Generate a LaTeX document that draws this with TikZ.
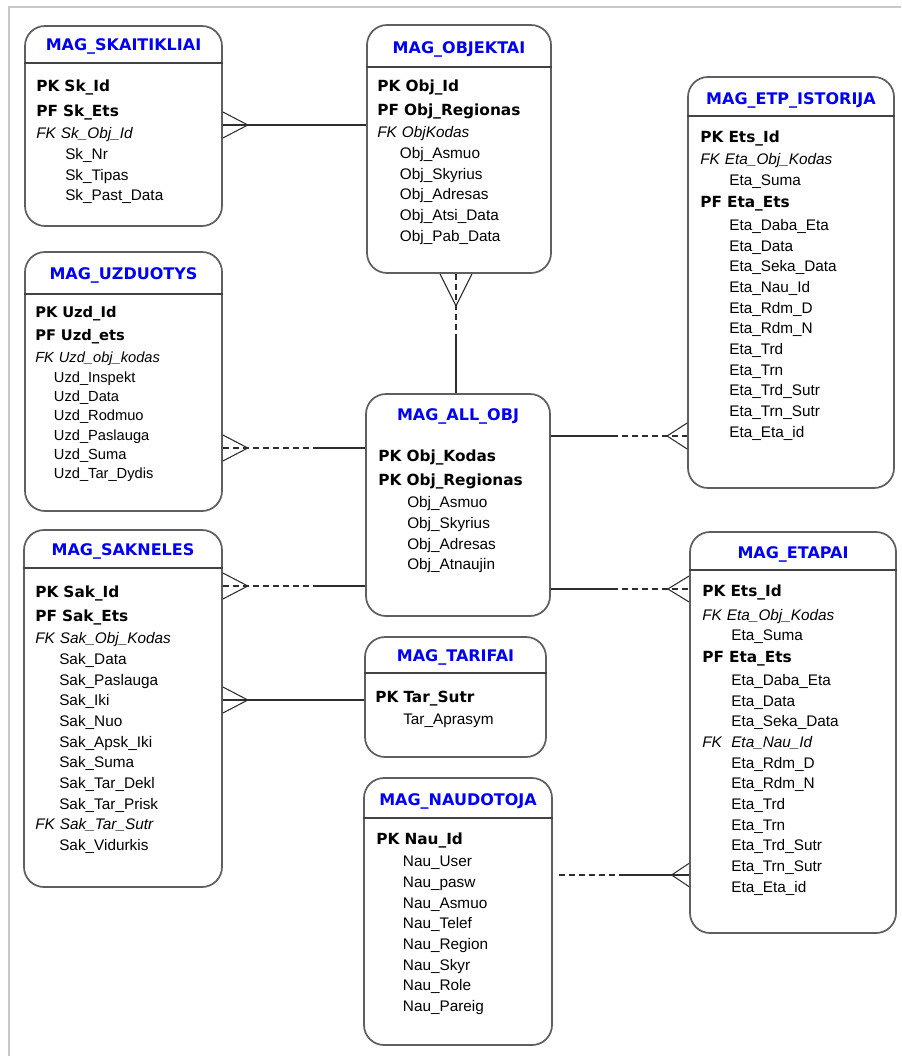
\documentclass[tikz,border=0pt]{standalone}
\usepackage{fontspec}
\setmainfont{Liberation Sans}
\newfontfamily\heavyfont{DejaVu Sans}
\usetikzlibrary{fit}

\definecolor{titleblue}{RGB}{0,0,245}
\definecolor{boxgray}{RGB}{95,95,95}
\definecolor{linkgray}{RGB}{45,45,45}
\definecolor{framegray}{RGB}{200,200,200}

\newlength\fieldindent
\newcommand{\keyfield}[1]{{\heavyfont\bfseries #1}}
\newcommand{\attr}[1]{\hspace*{\fieldindent}#1}

\tikzset{
  entbox/.style={draw=boxgray, line width=1.3pt, rounded corners=15pt, inner sep=0pt},
  enttitle/.style={anchor=base, inner sep=0.75pt, text=titleblue, font=\heavyfont\bfseries\fontsize{12}{14}\selectfont},
  entfields/.style={anchor=base west, inner sep=0pt, align=left, text width=160pt, font=\fontsize{11.5}{15.5}\selectfont},
  fieldindent/.code={\setlength\fieldindent{#1}},
  headrule/.style={draw=boxgray!70!black, line width=1pt},
  relline/.style={draw=linkgray, line width=0.8pt},
  relopt/.style={relline, dash pattern=on 4.5pt off 3pt},
  crow/.pic={\draw [relline] (0,-13) -- (25,0) -- (0,13);},
}

\begin{document}
\begin{tikzpicture}[x=0.75pt,y=0.75pt,yscale=-1,xscale=1]
\useasboundingbox (0,0) rectangle (901,1056);
%Frame
\draw [framegray, line width=1.2pt] (9,1056) -- (9,7) -- (901,7);

%Shape: MAG_SKAITIKLIAI
\node [entbox, fit={(25,26) (222,226)}] (skait) {};
\draw [headrule] (skait.west |- 0,63) -- (skait.east |- 0,63);
\draw (skait.north |- 0,51) node [enttitle] (skaitT) {MAG\_SKAITIKLIAI};
\draw (36,92) node [entfields, fieldindent=21.75pt] (skaitF) {\keyfield{PK Sk\_Id}\\[2.5pt]\keyfield{PF Sk\_Ets}\\[1.7pt]\textit{FK Sk\_Obj\_Id}\\\attr{Sk\_Nr}\\\attr{Sk\_Tipas}\\\attr{Sk\_Past\_Data}};

%Shape: MAG_OBJEKTAI
\node [entbox, fit={(367,25) (551,273)}] (obj) {};
\draw [headrule] (obj.west |- 0,67) -- (obj.east |- 0,67);
\draw (obj.north |- 0,54) node [enttitle] (objT) {MAG\_OBJEKTAI};
\draw (377,91) node [entfields, fieldindent=17pt] (objF) {\keyfield{PK Obj\_Id}\\[2.5pt]\keyfield{PF Obj\_Regionas}\\[1.7pt]\textit{FK ObjKodas}\\\attr{Obj\_Asmuo}\\\attr{Obj\_Skyrius}\\\attr{Obj\_Adresas}\\\attr{Obj\_Atsi\_Data}\\\attr{Obj\_Pab\_Data}};

%Shape: MAG_ETP_ISTORIJA
\node [entbox, fit={(688,77) (894,488)}] (etp) {};
\draw [headrule] (etp.west |- 0,116) -- (etp.east |- 0,116);
\draw (etp.north |- 0,104) node [enttitle] (etpT) {MAG\_ETP\_ISTORIJA};
\draw (700,142) node [entfields, fieldindent=21.75pt] (etpF) {\keyfield{PK Ets\_Id}\\[1.7pt]\textit{FK Eta\_Obj\_Kodas}\\\attr{Eta\_Suma}\\[1pt]\keyfield{PF Eta\_Ets}\\[1.7pt]\attr{Eta\_Daba\_Eta}\\\attr{Eta\_Data}\\\attr{Eta\_Seka\_Data}\\\attr{Eta\_Nau\_Id}\\\attr{Eta\_Rdm\_D}\\\attr{Eta\_Rdm\_N}\\\attr{Eta\_Trd}\\\attr{Eta\_Trn}\\\attr{Eta\_Trd\_Sutr}\\\attr{Eta\_Trn\_Sutr}\\\attr{Eta\_Eta\_id}};

%Shape: MAG_UZDUOTYS
\node [entbox, fit={(25,252) (222,511)}] (uzd) {};
\draw [headrule] (uzd.west |- 0,294) -- (uzd.east |- 0,294);
\draw (uzd.north |- 0,279) node [enttitle] (uzdT) {MAG\_UZDUOTYS};
\draw (35,317) node [entfields, fieldindent=14pt, font=\fontsize{11}{14.5}\selectfont] (uzdF) {\keyfield{PK Uzd\_Id}\\[2.8pt]\keyfield{PF Uzd\_ets}\\[2pt]\textit{FK Uzd\_obj\_kodas}\\[0.5pt]\attr{Uzd\_Inspekt}\\\attr{Uzd\_Data}\\\attr{Uzd\_Rodmuo}\\\attr{Uzd\_Paslauga}\\\attr{Uzd\_Suma}\\\attr{Uzd\_Tar\_Dydis}};

%Shape: MAG_ALL_OBJ
\node [entbox, fit={(366,394) (550,616)}] (allobj) {};
\draw (allobj.north |- 0,420) node [enttitle] (allobjT) {MAG\_ALL\_OBJ};
\draw (378,461) node [entfields, fieldindent=21.75pt] (allobjF) {\keyfield{PK Obj\_Kodas}\\[2.5pt]\keyfield{PK Obj\_Regionas}\\[1.7pt]\attr{Obj\_Asmuo}\\\attr{Obj\_Skyrius}\\\attr{Obj\_Adresas}\\\attr{Obj\_Atnaujin}};

%Shape: MAG_SAKNELES
\node [entbox, fit={(24,530) (222,887)}] (sak) {};
\draw [headrule] (sak.west |- 0,568) -- (sak.east |- 0,568);
\draw (sak.north |- 0,555) node [enttitle] (sakT) {MAG\_SAKNELES};
\draw (35,597) node [entfields, fieldindent=18pt] (sakF) {\keyfield{PK Sak\_Id}\\[2.5pt]\keyfield{PF Sak\_Ets}\\[1.7pt]\textit{FK Sak\_Obj\_Kodas}\\\attr{Sak\_Data}\\\attr{Sak\_Paslauga}\\\attr{Sak\_Iki}\\\attr{Sak\_Nuo}\\\attr{Sak\_Apsk\_Iki}\\\attr{Sak\_Suma}\\\attr{Sak\_Tar\_Dekl}\\\attr{Sak\_Tar\_Prisk}\\\textit{FK Sak\_Tar\_Sutr}\\\attr{Sak\_Vidurkis}};

%Shape: MAG_ETAPAI
\node [entbox, fit={(690,532) (896,933)}] (etapai) {};
\draw [headrule] (etapai.west |- 0,570) -- (etapai.east |- 0,570);
\draw (etapai.north |- 0,558) node [enttitle] (etapaiT) {MAG\_ETAPAI};
\draw (702,596) node [entfields, fieldindent=21.75pt] (etapaiF) {\keyfield{PK Ets\_Id}\\[2.5pt]\textit{FK Eta\_Obj\_Kodas}\\\attr{Eta\_Suma}\\[1pt]\keyfield{PF Eta\_Ets}\\[1.7pt]\attr{Eta\_Daba\_Eta}\\\attr{Eta\_Data}\\\attr{Eta\_Seka\_Data}\\\textit{\makebox[\fieldindent][l]{FK}Eta\_Nau\_Id}\\\attr{Eta\_Rdm\_D}\\\attr{Eta\_Rdm\_N}\\\attr{Eta\_Trd}\\\attr{Eta\_Trn}\\\attr{Eta\_Trd\_Sutr}\\\attr{Eta\_Trn\_Sutr}\\\attr{Eta\_Eta\_id}};

%Shape: MAG_TARIFAI
\node [entbox, fit={(365,637) (546,757)}] (tar) {};
\draw [headrule] (tar.west |- 0,673) -- (tar.east |- 0,673);
\draw (tar.north |- 0,661) node [enttitle] (tarT) {MAG\_TARIFAI};
\draw (375,702) node [entfields, fieldindent=21pt] (tarF) {\keyfield{PK Tar\_Sutr}\\[1pt]\attr{Tar\_Aprasym}};

%Shape: MAG_NAUDOTOJA
\node [entbox, fit={(364,778) (552,1045)}] (nau) {};
\draw [headrule] (nau.west |- 0,818) -- (nau.east |- 0,818);
\draw (nau.north |- 0,805) node [enttitle] (nauT) {MAG\_NAUDOTOJA};
\draw (376,844) node [entfields, fieldindent=20pt] (nauF) {\keyfield{PK Nau\_Id}\\[1.7pt]\attr{Nau\_User}\\\attr{Nau\_pasw}\\\attr{Nau\_Asmuo}\\\attr{Nau\_Telef}\\\attr{Nau\_Region}\\\attr{Nau\_Skyr}\\\attr{Nau\_Role}\\\attr{Nau\_Pareig}};

%Relations
\coordinate (oa) at (456,340);
\coordinate (ua) at (316,448);
\coordinate (sa) at (316,586);
\coordinate (ae) at (612,436);
\coordinate (ap) at (612,589);
\coordinate (ne) at (625,875);

% skaitikliai - objektai
\draw [relline] (skait.east |- 0,125) -- (obj.west |- 0,125);
\pic at (skait.east |- 0,125) {crow};
% objektai - all_obj
\draw [relopt] (obj.south -| oa) -- (oa);
\draw [relline] (oa) -- (allobj.north -| oa);
\pic [rotate=-90, xscale=1.28, yscale=1.23] at (obj.south -| oa) {crow};
% uzduotys - all_obj
\draw [relopt] (uzd.east |- ua) -- (ua);
\draw [relline] (ua) -- (allobj.west |- ua);
\pic at (uzd.east |- ua) {crow};
% sakneles - all_obj
\draw [relopt] (sak.east |- sa) -- (sa);
\draw [relline] (sa) -- (allobj.west |- sa);
\pic at (sak.east |- sa) {crow};
% all_obj - etp_istorija
\draw [relline] (allobj.east |- ae) -- (ae);
\draw [relopt] (ae) -- (etp.west |- ae);
\pic [rotate=180, xscale=0.8] at (etp.west |- ae) {crow};
% all_obj - etapai
\draw [relline] (allobj.east |- ap) -- (ap);
\draw [relopt] (ap) -- (etapai.west |- ap);
\pic [rotate=180, xscale=0.85] at (etapai.west |- ap) {crow};
% sakneles - tarifai
\draw [relline] (sak.east |- 0,700) -- (tar.west |- 0,700);
\pic at (sak.east |- 0,700) {crow};
% naudotoja - etapai
\draw [relopt, shorten <=4.5pt] (nau.east |- ne) -- (ne);
\draw [relline] (ne) -- (etapai.west |- ne);
\pic [rotate=180, xscale=0.7, yscale=0.9] at (etapai.west |- ne) {crow};

\end{tikzpicture}
\end{document}
